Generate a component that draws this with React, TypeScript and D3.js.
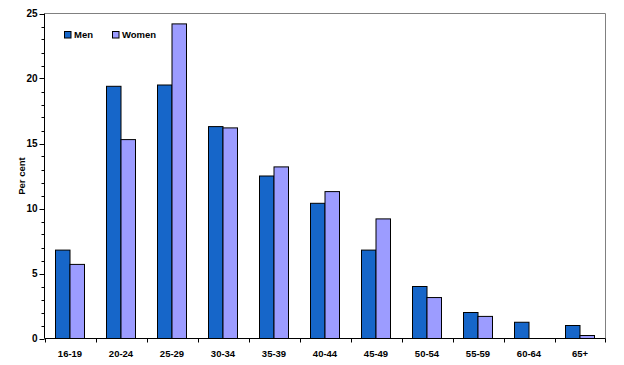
import React from "react";
import * as d3 from "d3";

const categories = ["16-19", "20-24", "25-29", "30-34", "35-39", "40-44", "45-49", "50-54", "55-59", "60-64", "65+"];
const men = [6.8, 19.4, 19.5, 16.3, 12.5, 10.4, 6.8, 4.0, 2.0, 1.25, 1.0];
const women = [5.7, 15.3, 24.2, 16.2, 13.2, 11.3, 9.2, 3.15, 1.7, 0, 0.23];
const seriesNames = ["Men", "Women"];
const yTicks = [0, 5, 10, 15, 20, 25];

const colors = ["#1666C9", "#9C9CFF"];

export default function App() {
  const W = 624, H = 365;
  const left = 44.5, right = 605.5, top = 13.5, bottom = 338.5;
  const x = d3.scaleBand<string>().domain(categories).range([left, right]).paddingInner(0).paddingOuter(0);
  const y = d3.scaleLinear().domain([0, 25]).range([bottom, top]);
  const bw = 14.5;
  const minor = d3.range(0, 26, 1).filter((v) => v % 5 !== 0);
  const font = "Arial, 'Liberation Sans', sans-serif";
  const data = [men, women];
  return (
    <svg width={W} height={H} style={{ position: "absolute", left: 0, top: 0, background: "#fff" }}>
      <rect x={0} y={0} width={W} height={H} fill="#fff" />
      {/* frame */}
      <line x1={left} x2={right} y1={top} y2={top} stroke="#808080" strokeWidth={1} />
      <line x1={right} x2={right} y1={top} y2={bottom} stroke="#808080" strokeWidth={1} />
      {/* bars */}
      {categories.map((c, i) => {
        const cx = (x(c) as number) + x.bandwidth() / 2;
        return data.map((s, k) => {
          const v = s[i];
          if (v <= 0) return null;
          const bx = cx - bw + k * bw;
          return (
            <rect key={c + k} x={bx} y={y(v)} width={bw} height={y(0) - y(v)} fill={colors[k]} stroke="#000" strokeWidth={1} />
          );
        });
      })}
      {/* y axis */}
      <line x1={left} x2={left} y1={top} y2={bottom} stroke="#000" strokeWidth={1} />
      {yTicks.map((t) => (
        <g key={t}>
          <line x1={left - 5} x2={left} y1={Math.round(y(t)) + 0.5} y2={Math.round(y(t)) + 0.5} stroke="#000" />
          <text x={left - 7} y={y(t) + 3.5} textAnchor="end" fontFamily={font} fontWeight="bold" fontSize={10}>{t}</text>
        </g>
      ))}
      {minor.map((t) => (
        <line key={"m" + t} x1={left - 3} x2={left} y1={Math.round(y(t)) + 0.5} y2={Math.round(y(t)) + 0.5} stroke="#000" />
      ))}
      {/* x axis */}
      <line x1={left} x2={right} y1={bottom} y2={bottom} stroke="#000" strokeWidth={1.2} />
      {categories.map((c) => (
        <line key={"t" + c} x1={Math.round(x(c) as number) + 0.5} x2={Math.round(x(c) as number) + 0.5} y1={bottom} y2={bottom + 4} stroke="#000" />
      ))}
      <line x1={right} x2={right} y1={bottom} y2={bottom + 4} stroke="#000" />
      {categories.map((c) => (
        <text key={"l" + c} x={(x(c) as number) + x.bandwidth() / 2} y={357} textAnchor="middle" fontFamily={font} fontWeight="bold" fontSize={9.5}>{c}</text>
      ))}
      {/* y label */}
      <text transform={`translate(25,${(top + bottom) / 2}) rotate(-90)`} textAnchor="middle" fontFamily={font} fontWeight="bold" fontSize={9.5}>Per cent</text>
      {/* legend */}
      {seriesNames.map((n, k) => {
        const lx = k === 0 ? 64.5 : 112.5;
        return (
          <g key={n}>
            <rect x={lx} y={31.5} width={6.5} height={6.5} fill={colors[k]} stroke="#000" strokeWidth={1} />
            <text x={lx + 9.5} y={38} fontFamily={font} fontWeight="bold" fontSize={9.5}>{n}</text>
          </g>
        );
      })}
    </svg>
  );
}
